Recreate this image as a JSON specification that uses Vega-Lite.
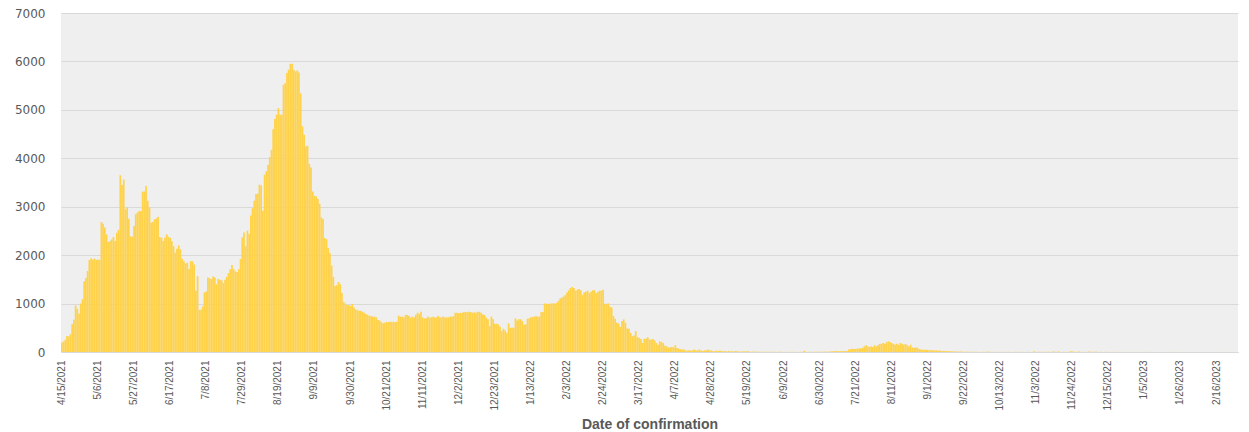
{
"$schema":"https://vega.github.io/schema/vega-lite/v6.json",
"autosize":{"type":"none"},
"width":1177,"height":339,
"padding":{"left":61,"top":13,"right":11,"bottom":80},
"background":"#FFFFFF",
"config":{"view":{"fill":"#EFEFEF","stroke":null}},
"data":{"values":[
{"d":"4/15/2021","v":195},{"d":"4/16/2021","v":215},{"d":"4/17/2021","v":250},{"d":"4/18/2021","v":330},{"d":"4/19/2021","v":320},{"d":"4/20/2021","v":365},{"d":"4/21/2021","v":575},{"d":"4/22/2021","v":665},{"d":"4/23/2021","v":960},{"d":"4/24/2021","v":890},{"d":"4/25/2021","v":790},{"d":"4/26/2021","v":1000},{"d":"4/27/2021","v":1090},{"d":"4/28/2021","v":1460},{"d":"4/29/2021","v":1530},{"d":"4/30/2021","v":1670},
{"d":"5/1/2021","v":1900},{"d":"5/2/2021","v":1930},{"d":"5/3/2021","v":1910},{"d":"5/4/2021","v":1930},{"d":"5/5/2021","v":1900},{"d":"5/6/2021","v":1910},{"d":"5/7/2021","v":1900},{"d":"5/8/2021","v":2685},{"d":"5/9/2021","v":2650},{"d":"5/10/2021","v":2570},{"d":"5/11/2021","v":2430},{"d":"5/12/2021","v":2270},{"d":"5/13/2021","v":2290},{"d":"5/14/2021","v":2325},{"d":"5/15/2021","v":2375},{"d":"5/16/2021","v":2290},{"d":"5/17/2021","v":2460},{"d":"5/18/2021","v":2520},{"d":"5/19/2021","v":3650},{"d":"5/20/2021","v":3450},{"d":"5/21/2021","v":3560},{"d":"5/22/2021","v":2950},{"d":"5/23/2021","v":2980},{"d":"5/24/2021","v":2750},{"d":"5/25/2021","v":2390},{"d":"5/26/2021","v":2380},{"d":"5/27/2021","v":2600},{"d":"5/28/2021","v":2845},{"d":"5/29/2021","v":2880},{"d":"5/30/2021","v":2910},{"d":"5/31/2021","v":2910},
{"d":"6/1/2021","v":3310},{"d":"6/2/2021","v":3315},{"d":"6/3/2021","v":3430},{"d":"6/4/2021","v":3120},{"d":"6/5/2021","v":2980},{"d":"6/6/2021","v":2670},{"d":"6/7/2021","v":2685},{"d":"6/8/2021","v":2740},{"d":"6/9/2021","v":2760},{"d":"6/10/2021","v":2795},{"d":"6/11/2021","v":2375},{"d":"6/12/2021","v":2360},{"d":"6/13/2021","v":2290},{"d":"6/14/2021","v":2360},{"d":"6/15/2021","v":2430},{"d":"6/16/2021","v":2380},{"d":"6/17/2021","v":2360},{"d":"6/18/2021","v":2290},{"d":"6/19/2021","v":2185},{"d":"6/20/2021","v":2050},{"d":"6/21/2021","v":2130},{"d":"6/22/2021","v":2200},{"d":"6/23/2021","v":2120},{"d":"6/24/2021","v":1925},{"d":"6/25/2021","v":1875},{"d":"6/26/2021","v":1830},{"d":"6/27/2021","v":1840},{"d":"6/28/2021","v":1715},{"d":"6/29/2021","v":1875},{"d":"6/30/2021","v":1875},
{"d":"7/1/2021","v":1805},{"d":"7/2/2021","v":1265},{"d":"7/3/2021","v":1565},{"d":"7/4/2021","v":870},{"d":"7/5/2021","v":870},{"d":"7/6/2021","v":940},{"d":"7/7/2021","v":1230},{"d":"7/8/2021","v":1250},{"d":"7/9/2021","v":1540},{"d":"7/10/2021","v":1520},{"d":"7/11/2021","v":1505},{"d":"7/12/2021","v":1560},{"d":"7/13/2021","v":1540},{"d":"7/14/2021","v":1400},{"d":"7/15/2021","v":1505},{"d":"7/16/2021","v":1490},{"d":"7/17/2021","v":1480},{"d":"7/18/2021","v":1425},{"d":"7/19/2021","v":1490},{"d":"7/20/2021","v":1550},{"d":"7/21/2021","v":1630},{"d":"7/22/2021","v":1710},{"d":"7/23/2021","v":1795},{"d":"7/24/2021","v":1710},{"d":"7/25/2021","v":1665},{"d":"7/26/2021","v":1650},{"d":"7/27/2021","v":1710},{"d":"7/28/2021","v":1920},{"d":"7/29/2021","v":2365},{"d":"7/30/2021","v":2470},{"d":"7/31/2021","v":2180},
{"d":"8/1/2021","v":2505},{"d":"8/2/2021","v":2440},{"d":"8/3/2021","v":2820},{"d":"8/4/2021","v":2970},{"d":"8/5/2021","v":3125},{"d":"8/6/2021","v":3260},{"d":"8/7/2021","v":3270},{"d":"8/8/2021","v":3455},{"d":"8/9/2021","v":3440},{"d":"8/10/2021","v":2915},{"d":"8/11/2021","v":3660},{"d":"8/12/2021","v":3730},{"d":"8/13/2021","v":3865},{"d":"8/14/2021","v":4025},{"d":"8/15/2021","v":4175},{"d":"8/16/2021","v":4600},{"d":"8/17/2021","v":4810},{"d":"8/18/2021","v":4900},{"d":"8/19/2021","v":5035},{"d":"8/20/2021","v":4900},{"d":"8/21/2021","v":4900},{"d":"8/22/2021","v":5520},{"d":"8/23/2021","v":5550},{"d":"8/24/2021","v":5760},{"d":"8/25/2021","v":5830},{"d":"8/26/2021","v":5950},{"d":"8/27/2021","v":5950},{"d":"8/28/2021","v":5830},{"d":"8/29/2021","v":5790},{"d":"8/30/2021","v":5815},{"d":"8/31/2021","v":5770},
{"d":"9/1/2021","v":5345},{"d":"9/2/2021","v":4660},{"d":"9/3/2021","v":4485},{"d":"9/4/2021","v":4245},{"d":"9/5/2021","v":4260},{"d":"9/6/2021","v":3885},{"d":"9/7/2021","v":3810},{"d":"9/8/2021","v":3315},{"d":"9/9/2021","v":3225},{"d":"9/10/2021","v":3215},{"d":"9/11/2021","v":3160},{"d":"9/12/2021","v":3060},{"d":"9/13/2021","v":2780},{"d":"9/14/2021","v":2745},{"d":"9/15/2021","v":2355},{"d":"9/16/2021","v":2330},{"d":"9/17/2021","v":2145},{"d":"9/18/2021","v":2040},{"d":"9/19/2021","v":1785},{"d":"9/20/2021","v":1550},{"d":"9/21/2021","v":1365},{"d":"9/22/2021","v":1380},{"d":"9/23/2021","v":1445},{"d":"9/24/2021","v":1400},{"d":"9/25/2021","v":1220},{"d":"9/26/2021","v":1035},{"d":"9/27/2021","v":1000},{"d":"9/28/2021","v":970},{"d":"9/29/2021","v":970},{"d":"9/30/2021","v":950},
{"d":"10/1/2021","v":990},{"d":"10/2/2021","v":920},{"d":"10/3/2021","v":880},{"d":"10/4/2021","v":865},{"d":"10/5/2021","v":850},{"d":"10/6/2021","v":850},{"d":"10/7/2021","v":830},{"d":"10/8/2021","v":810},{"d":"10/9/2021","v":785},{"d":"10/10/2021","v":765},{"d":"10/11/2021","v":745},{"d":"10/12/2021","v":745},{"d":"10/13/2021","v":730},{"d":"10/14/2021","v":730},{"d":"10/15/2021","v":715},{"d":"10/16/2021","v":660},{"d":"10/17/2021","v":650},{"d":"10/18/2021","v":615},{"d":"10/19/2021","v":595},{"d":"10/20/2021","v":605},{"d":"10/21/2021","v":620},{"d":"10/22/2021","v":620},{"d":"10/23/2021","v":625},{"d":"10/24/2021","v":620},{"d":"10/25/2021","v":625},{"d":"10/26/2021","v":615},{"d":"10/27/2021","v":625},{"d":"10/28/2021","v":750},{"d":"10/29/2021","v":730},{"d":"10/30/2021","v":730},{"d":"10/31/2021","v":715},
{"d":"11/1/2021","v":765},{"d":"11/2/2021","v":765},{"d":"11/3/2021","v":750},{"d":"11/4/2021","v":710},{"d":"11/5/2021","v":730},{"d":"11/6/2021","v":710},{"d":"11/7/2021","v":765},{"d":"11/8/2021","v":810},{"d":"11/9/2021","v":785},{"d":"11/10/2021","v":830},{"d":"11/11/2021","v":715},{"d":"11/12/2021","v":695},{"d":"11/13/2021","v":695},{"d":"11/14/2021","v":730},{"d":"11/15/2021","v":710},{"d":"11/16/2021","v":715},{"d":"11/17/2021","v":730},{"d":"11/18/2021","v":715},{"d":"11/19/2021","v":715},{"d":"11/20/2021","v":745},{"d":"11/21/2021","v":715},{"d":"11/22/2021","v":715},{"d":"11/23/2021","v":730},{"d":"11/24/2021","v":710},{"d":"11/25/2021","v":715},{"d":"11/26/2021","v":715},{"d":"11/27/2021","v":730},{"d":"11/28/2021","v":730},{"d":"11/29/2021","v":745},{"d":"11/30/2021","v":810},
{"d":"12/1/2021","v":810},{"d":"12/2/2021","v":800},{"d":"12/3/2021","v":810},{"d":"12/4/2021","v":810},{"d":"12/5/2021","v":825},{"d":"12/6/2021","v":825},{"d":"12/7/2021","v":820},{"d":"12/8/2021","v":830},{"d":"12/9/2021","v":825},{"d":"12/10/2021","v":810},{"d":"12/11/2021","v":820},{"d":"12/12/2021","v":810},{"d":"12/13/2021","v":830},{"d":"12/14/2021","v":830},{"d":"12/15/2021","v":810},{"d":"12/16/2021","v":775},{"d":"12/17/2021","v":765},{"d":"12/18/2021","v":710},{"d":"12/19/2021","v":675},{"d":"12/20/2021","v":535},{"d":"12/21/2021","v":730},{"d":"12/22/2021","v":675},{"d":"12/23/2021","v":585},{"d":"12/24/2021","v":585},{"d":"12/25/2021","v":570},{"d":"12/26/2021","v":520},{"d":"12/27/2021","v":430},{"d":"12/28/2021","v":480},{"d":"12/29/2021","v":445},{"d":"12/30/2021","v":395},{"d":"12/31/2021","v":590},
{"d":"1/1/2022","v":500},{"d":"1/2/2022","v":500},{"d":"1/3/2022","v":500},{"d":"1/4/2022","v":695},{"d":"1/5/2022","v":650},{"d":"1/6/2022","v":675},{"d":"1/7/2022","v":675},{"d":"1/8/2022","v":640},{"d":"1/9/2022","v":570},{"d":"1/10/2022","v":570},{"d":"1/11/2022","v":685},{"d":"1/12/2022","v":695},{"d":"1/13/2022","v":720},{"d":"1/14/2022","v":720},{"d":"1/15/2022","v":730},{"d":"1/16/2022","v":740},{"d":"1/17/2022","v":730},{"d":"1/18/2022","v":730},{"d":"1/19/2022","v":825},{"d":"1/20/2022","v":825},{"d":"1/21/2022","v":1000},{"d":"1/22/2022","v":1000},{"d":"1/23/2022","v":990},{"d":"1/24/2022","v":1000},{"d":"1/25/2022","v":1000},{"d":"1/26/2022","v":1005},{"d":"1/27/2022","v":1000},{"d":"1/28/2022","v":1015},{"d":"1/29/2022","v":1055},{"d":"1/30/2022","v":1105},{"d":"1/31/2022","v":1125},
{"d":"2/1/2022","v":1145},{"d":"2/2/2022","v":1175},{"d":"2/3/2022","v":1230},{"d":"2/4/2022","v":1275},{"d":"2/5/2022","v":1320},{"d":"2/6/2022","v":1345},{"d":"2/7/2022","v":1320},{"d":"2/8/2022","v":1265},{"d":"2/9/2022","v":1285},{"d":"2/10/2022","v":1300},{"d":"2/11/2022","v":1275},{"d":"2/12/2022","v":1180},{"d":"2/13/2022","v":1230},{"d":"2/14/2022","v":1245},{"d":"2/15/2022","v":1265},{"d":"2/16/2022","v":1215},{"d":"2/17/2022","v":1245},{"d":"2/18/2022","v":1275},{"d":"2/19/2022","v":1275},{"d":"2/20/2022","v":1215},{"d":"2/21/2022","v":1245},{"d":"2/22/2022","v":1265},{"d":"2/23/2022","v":1265},{"d":"2/24/2022","v":1285},{"d":"2/25/2022","v":1000},{"d":"2/26/2022","v":985},{"d":"2/27/2022","v":1005},{"d":"2/28/2022","v":935},
{"d":"3/1/2022","v":920},{"d":"3/2/2022","v":745},{"d":"3/3/2022","v":685},{"d":"3/4/2022","v":605},{"d":"3/5/2022","v":590},{"d":"3/6/2022","v":520},{"d":"3/7/2022","v":640},{"d":"3/8/2022","v":675},{"d":"3/9/2022","v":605},{"d":"3/10/2022","v":485},{"d":"3/11/2022","v":480},{"d":"3/12/2022","v":395},{"d":"3/13/2022","v":325},{"d":"3/14/2022","v":340},{"d":"3/15/2022","v":430},{"d":"3/16/2022","v":310},{"d":"3/17/2022","v":290},{"d":"3/18/2022","v":270},{"d":"3/19/2022","v":185},{"d":"3/20/2022","v":275},{"d":"3/21/2022","v":275},{"d":"3/22/2022","v":305},{"d":"3/23/2022","v":255},{"d":"3/24/2022","v":255},{"d":"3/25/2022","v":270},{"d":"3/26/2022","v":240},{"d":"3/27/2022","v":185},{"d":"3/28/2022","v":150},{"d":"3/29/2022","v":220},{"d":"3/30/2022","v":205},{"d":"3/31/2022","v":185},
{"d":"4/1/2022","v":130},{"d":"4/2/2022","v":115},{"d":"4/3/2022","v":95},{"d":"4/4/2022","v":95},{"d":"4/5/2022","v":105},{"d":"4/6/2022","v":95},{"d":"4/7/2022","v":140},{"d":"4/8/2022","v":85},{"d":"4/9/2022","v":70},{"d":"4/10/2022","v":60},{"d":"4/11/2022","v":50},{"d":"4/12/2022","v":50},{"d":"4/13/2022","v":35},{"d":"4/14/2022","v":30},{"d":"4/15/2022","v":35},{"d":"4/16/2022","v":30},{"d":"4/17/2022","v":35},{"d":"4/18/2022","v":50},{"d":"4/19/2022","v":30},{"d":"4/20/2022","v":35},{"d":"4/21/2022","v":50},{"d":"4/22/2022","v":30},{"d":"4/23/2022","v":20},{"d":"4/24/2022","v":35},{"d":"4/25/2022","v":30},{"d":"4/26/2022","v":50},{"d":"4/27/2022","v":35},{"d":"4/28/2022","v":30},{"d":"4/29/2022","v":20},{"d":"4/30/2022","v":15},
{"d":"5/1/2022","v":30},{"d":"5/2/2022","v":20},{"d":"5/3/2022","v":30},{"d":"5/4/2022","v":20},{"d":"5/5/2022","v":15},{"d":"5/6/2022","v":20},{"d":"5/7/2022","v":10},{"d":"5/8/2022","v":20},{"d":"5/9/2022","v":15},{"d":"5/10/2022","v":15},{"d":"5/11/2022","v":10},{"d":"5/12/2022","v":20},{"d":"5/13/2022","v":15},{"d":"5/14/2022","v":10},{"d":"5/15/2022","v":10},{"d":"5/16/2022","v":10},{"d":"5/17/2022","v":15},{"d":"5/18/2022","v":10},{"d":"5/19/2022","v":20},{"d":"5/20/2022","v":8},{"d":"5/21/2022","v":5},{"d":"5/22/2022","v":10},{"d":"5/23/2022","v":6},{"d":"5/24/2022","v":4},{"d":"5/25/2022","v":8},{"d":"5/26/2022","v":5},{"d":"5/27/2022","v":3},{"d":"5/28/2022","v":6},{"d":"5/29/2022","v":4},{"d":"5/30/2022","v":5},{"d":"5/31/2022","v":3},
{"d":"6/1/2022","v":4},{"d":"6/2/2022","v":2},{"d":"6/3/2022","v":5},{"d":"6/4/2022","v":3},{"d":"6/5/2022","v":2},{"d":"6/6/2022","v":4},{"d":"6/7/2022","v":3},{"d":"6/8/2022","v":2},{"d":"6/9/2022","v":1},{"d":"6/10/2022","v":3},{"d":"6/11/2022","v":2},{"d":"6/12/2022","v":4},{"d":"6/13/2022","v":2},{"d":"6/14/2022","v":3},{"d":"6/15/2022","v":1},{"d":"6/16/2022","v":2},{"d":"6/17/2022","v":3},{"d":"6/18/2022","v":2},{"d":"6/19/2022","v":4},{"d":"6/20/2022","v":2},{"d":"6/21/2022","v":25},{"d":"6/22/2022","v":3},{"d":"6/23/2022","v":2},{"d":"6/24/2022","v":4},{"d":"6/25/2022","v":3},{"d":"6/26/2022","v":2},{"d":"6/27/2022","v":5},{"d":"6/28/2022","v":3},{"d":"6/29/2022","v":4},{"d":"6/30/2022","v":6},
{"d":"7/1/2022","v":6},{"d":"7/2/2022","v":5},{"d":"7/3/2022","v":8},{"d":"7/4/2022","v":6},{"d":"7/5/2022","v":7},{"d":"7/6/2022","v":10},{"d":"7/7/2022","v":15},{"d":"7/8/2022","v":18},{"d":"7/9/2022","v":15},{"d":"7/10/2022","v":20},{"d":"7/11/2022","v":18},{"d":"7/12/2022","v":15},{"d":"7/13/2022","v":20},{"d":"7/14/2022","v":18},{"d":"7/15/2022","v":20},{"d":"7/16/2022","v":22},{"d":"7/17/2022","v":50},{"d":"7/18/2022","v":60},{"d":"7/19/2022","v":65},{"d":"7/20/2022","v":60},{"d":"7/21/2022","v":65},{"d":"7/22/2022","v":70},{"d":"7/23/2022","v":70},{"d":"7/24/2022","v":75},{"d":"7/25/2022","v":85},{"d":"7/26/2022","v":115},{"d":"7/27/2022","v":140},{"d":"7/28/2022","v":115},{"d":"7/29/2022","v":105},{"d":"7/30/2022","v":115},{"d":"7/31/2022","v":105},
{"d":"8/1/2022","v":140},{"d":"8/2/2022","v":115},{"d":"8/3/2022","v":140},{"d":"8/4/2022","v":165},{"d":"8/5/2022","v":170},{"d":"8/6/2022","v":185},{"d":"8/7/2022","v":170},{"d":"8/8/2022","v":200},{"d":"8/9/2022","v":220},{"d":"8/10/2022","v":205},{"d":"8/11/2022","v":185},{"d":"8/12/2022","v":165},{"d":"8/13/2022","v":150},{"d":"8/14/2022","v":170},{"d":"8/15/2022","v":150},{"d":"8/16/2022","v":185},{"d":"8/17/2022","v":170},{"d":"8/18/2022","v":150},{"d":"8/19/2022","v":165},{"d":"8/20/2022","v":140},{"d":"8/21/2022","v":115},{"d":"8/22/2022","v":150},{"d":"8/23/2022","v":95},{"d":"8/24/2022","v":85},{"d":"8/25/2022","v":95},{"d":"8/26/2022","v":85},{"d":"8/27/2022","v":60},{"d":"8/28/2022","v":50},{"d":"8/29/2022","v":45},{"d":"8/30/2022","v":50},{"d":"8/31/2022","v":40},
{"d":"9/1/2022","v":45},{"d":"9/2/2022","v":35},{"d":"9/3/2022","v":40},{"d":"9/4/2022","v":35},{"d":"9/5/2022","v":30},{"d":"9/6/2022","v":35},{"d":"9/7/2022","v":25},{"d":"9/8/2022","v":30},{"d":"9/9/2022","v":20},{"d":"9/10/2022","v":25},{"d":"9/11/2022","v":20},{"d":"9/12/2022","v":15},{"d":"9/13/2022","v":20},{"d":"9/14/2022","v":15},{"d":"9/15/2022","v":15},{"d":"9/16/2022","v":10},{"d":"9/17/2022","v":10},{"d":"9/18/2022","v":12},{"d":"9/19/2022","v":8},{"d":"9/20/2022","v":10},{"d":"9/21/2022","v":8},{"d":"9/22/2022","v":5},{"d":"9/23/2022","v":4},{"d":"9/24/2022","v":6},{"d":"9/25/2022","v":3},{"d":"9/26/2022","v":5},{"d":"9/27/2022","v":4},{"d":"9/28/2022","v":3},{"d":"9/29/2022","v":5},{"d":"9/30/2022","v":2},
{"d":"10/1/2022","v":3},{"d":"10/2/2022","v":2},{"d":"10/3/2022","v":4},{"d":"10/4/2022","v":3},{"d":"10/5/2022","v":2},{"d":"10/6/2022","v":12},{"d":"10/7/2022","v":3},{"d":"10/8/2022","v":2},{"d":"10/9/2022","v":4},{"d":"10/10/2022","v":2},{"d":"10/11/2022","v":3},{"d":"10/12/2022","v":2},{"d":"10/13/2022","v":1},{"d":"10/14/2022","v":3},{"d":"10/15/2022","v":2},{"d":"10/16/2022","v":4},{"d":"10/17/2022","v":2},{"d":"10/18/2022","v":3},{"d":"10/19/2022","v":2},{"d":"10/20/2022","v":1},{"d":"10/21/2022","v":2},{"d":"10/22/2022","v":3},{"d":"10/23/2022","v":2},{"d":"10/24/2022","v":4},{"d":"10/25/2022","v":2},{"d":"10/26/2022","v":3},{"d":"10/27/2022","v":2},{"d":"10/28/2022","v":1},{"d":"10/29/2022","v":2},{"d":"10/30/2022","v":3},{"d":"10/31/2022","v":2},
{"d":"11/1/2022","v":3},{"d":"11/2/2022","v":15},{"d":"11/3/2022","v":2},{"d":"11/4/2022","v":4},{"d":"11/5/2022","v":3},{"d":"11/6/2022","v":2},{"d":"11/7/2022","v":3},{"d":"11/8/2022","v":4},{"d":"11/9/2022","v":2},{"d":"11/10/2022","v":3},{"d":"11/11/2022","v":2},{"d":"11/12/2022","v":3},{"d":"11/13/2022","v":12},{"d":"11/14/2022","v":3},{"d":"11/15/2022","v":2},{"d":"11/16/2022","v":12},{"d":"11/17/2022","v":3},{"d":"11/18/2022","v":2},{"d":"11/19/2022","v":4},{"d":"11/20/2022","v":3},{"d":"11/21/2022","v":2},{"d":"11/22/2022","v":3},{"d":"11/23/2022","v":15},{"d":"11/24/2022","v":12},{"d":"11/25/2022","v":3},{"d":"11/26/2022","v":2},{"d":"11/27/2022","v":4},{"d":"11/28/2022","v":12},{"d":"11/29/2022","v":3},{"d":"11/30/2022","v":2},
{"d":"12/1/2022","v":3},{"d":"12/2/2022","v":2},{"d":"12/3/2022","v":4},{"d":"12/4/2022","v":12},{"d":"12/5/2022","v":3},{"d":"12/6/2022","v":2},{"d":"12/7/2022","v":3},{"d":"12/8/2022","v":10},{"d":"12/9/2022","v":2},{"d":"12/10/2022","v":3},{"d":"12/11/2022","v":2},{"d":"12/12/2022","v":1},{"d":"12/13/2022","v":2},{"d":"12/14/2022","v":3},{"d":"12/15/2022","v":2},{"d":"12/16/2022","v":1},{"d":"12/17/2022","v":2},{"d":"12/18/2022","v":2},{"d":"12/19/2022","v":1},{"d":"12/20/2022","v":2},{"d":"12/21/2022","v":3},{"d":"12/22/2022","v":1},{"d":"12/23/2022","v":2},{"d":"12/24/2022","v":1},{"d":"12/25/2022","v":2},{"d":"12/26/2022","v":1},{"d":"12/27/2022","v":2},{"d":"12/28/2022","v":1},{"d":"12/29/2022","v":2},{"d":"12/30/2022","v":1},{"d":"12/31/2022","v":1},
{"d":"1/1/2023","v":1},{"d":"1/2/2023","v":2},{"d":"1/3/2023","v":1},{"d":"1/4/2023","v":1},{"d":"1/5/2023","v":2},{"d":"1/6/2023","v":1},{"d":"1/7/2023","v":1},{"d":"1/8/2023","v":2},{"d":"1/9/2023","v":1},{"d":"1/10/2023","v":1},{"d":"1/11/2023","v":0},{"d":"1/12/2023","v":1},{"d":"1/13/2023","v":1},{"d":"1/14/2023","v":2},{"d":"1/15/2023","v":1},{"d":"1/16/2023","v":1},{"d":"1/17/2023","v":1},{"d":"1/18/2023","v":0},{"d":"1/19/2023","v":1},{"d":"1/20/2023","v":1},{"d":"1/21/2023","v":2},{"d":"1/22/2023","v":1},{"d":"1/23/2023","v":1},{"d":"1/24/2023","v":0},{"d":"1/25/2023","v":1},{"d":"1/26/2023","v":1},{"d":"1/27/2023","v":1},{"d":"1/28/2023","v":2},{"d":"1/29/2023","v":1},{"d":"1/30/2023","v":0},{"d":"1/31/2023","v":1},
{"d":"2/1/2023","v":1},{"d":"2/2/2023","v":0},{"d":"2/3/2023","v":1},{"d":"2/4/2023","v":1},{"d":"2/5/2023","v":0},{"d":"2/6/2023","v":1},{"d":"2/7/2023","v":1},{"d":"2/8/2023","v":0},{"d":"2/9/2023","v":1},{"d":"2/10/2023","v":0},{"d":"2/11/2023","v":1},{"d":"2/12/2023","v":1},{"d":"2/13/2023","v":0},{"d":"2/14/2023","v":1},{"d":"2/15/2023","v":0},{"d":"2/16/2023","v":1},{"d":"2/17/2023","v":1},{"d":"2/18/2023","v":0},{"d":"2/19/2023","v":1},{"d":"2/20/2023","v":0},{"d":"2/21/2023","v":0},{"d":"2/22/2023","v":1},{"d":"2/23/2023","v":0},{"d":"2/24/2023","v":1},{"d":"2/25/2023","v":0},{"d":"2/26/2023","v":0},{"d":"2/27/2023","v":1},{"d":"2/28/2023","v":0}
]},
"mark":{"type":"bar","color":"#FFD24A"},
"encoding":{
"x":{"field":"d","type":"ordinal","sort":null,
"scale":{"paddingInner":0,"paddingOuter":0},
"axis":{"title":"Date of confirmation","titleFont":"Liberation Sans","titleFontSize":14,"titleFontWeight":"bold","titleColor":"#595959","titlePadding":7,
"values":["4/15/2021","5/6/2021","5/27/2021","6/17/2021","7/8/2021","7/29/2021","8/19/2021","9/9/2021","9/30/2021","10/21/2021","11/11/2021","12/2/2021","12/23/2021","1/13/2022","2/3/2022","2/24/2022","3/17/2022","4/7/2022","4/28/2022","5/19/2022","6/9/2022","6/30/2022","7/21/2022","8/11/2022","9/1/2022","9/22/2022","10/13/2022","11/3/2022","11/24/2022","12/15/2022","1/5/2023","1/26/2023","2/16/2023"],
"labelAngle":-90,"labelFont":"Liberation Sans","labelFontSize":10,"labelColor":"#595959","labelPadding":8,"labelOverlap":false,"labelFlush":false,
"ticks":false,"domain":true,"domainColor":"#D9D9D9","grid":false}},
"y":{"field":"v","type":"quantitative",
"scale":{"domain":[0,7000],"nice":false},
"axis":{"title":null,"format":"d","values":[0,1000,2000,3000,4000,5000,6000,7000],"labelFont":"DejaVu Sans","labelFontSize":12,"labelColor":"#595959","labelPadding":16,
"ticks":false,"domain":false,"grid":true,"gridColor":"#D9D9D9","gridWidth":1}}
}
}
